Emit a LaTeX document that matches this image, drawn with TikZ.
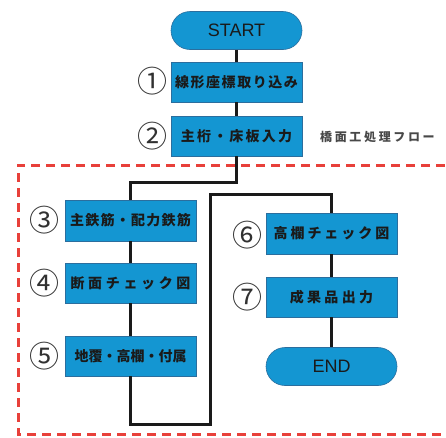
\documentclass[tikz,border=0pt]{standalone}
\usepackage{fontspec}
\setmainfont{Liberation Sans}
\newfontfamily\jp{Noto Sans CJK JP}
\definecolor{boxblue}{HTML}{1496D2}
\definecolor{boxedge}{HTML}{2B6E9E}
\definecolor{dashred}{HTML}{E8403A}
\definecolor{txt}{HTML}{1A1A1A}
\newcommand{\ls}[2]{{\addfontfeature{LetterSpace=#1}#2}}
\tikzset{
  stepbox/.style={draw=boxedge, line width=0.6pt, fill=boxblue, minimum width=131pt, minimum height=40pt, inner sep=0pt, text=txt, font=\jp\bfseries\fontsize{14}{16}\selectfont},
  term/.style={draw=boxedge, line width=0.6pt, fill=boxblue, minimum width=131pt, minimum height=38pt, rounded corners=19pt, inner sep=0pt, text=txt, font=\fontsize{18}{20}\selectfont},
  num/.style={inner sep=0pt, text=txt!90, font=\jp\fontsize{30}{31}\selectfont},
  conn/.style={line width=3pt, draw=txt},
}
\begin{document}
\begin{tikzpicture}[x=1pt,y=-1pt]
\useasboundingbox (0,0) rectangle (446,437);
% dashed region
\draw[dashred, line width=3pt, dash pattern=on 9pt off 6pt] (460,165) -- (18,165) -- (18,434) -- (460,434);
% nodes
\node[term] (start) at (236.5,30.5) {START};
\node[stepbox] (b1) at (236.5,82) {\ls{11}{線形座標取り込み}};
\node[stepbox] (b2) at (236.5,136) {\ls{16}{主桁・床板入力}};
\node[stepbox, minimum height=41pt] (b3) at (130.5,220.5) {\ls{9}{主鉄筋・配力鉄筋}};
\node[stepbox] (b4) at (130.5,283) {\ls{26}{断面チェック図}};
\node[stepbox] (b5) at (130.5,356) {\ls{0}{地覆・高欄・付属}};
\node[stepbox, minimum height=41pt] (b6) at (331.5,233.5) {\ls{21}{高欄チェック図}};
\node[stepbox] (b7) at (331.5,297) {\ls{24}{成果品出力}};
\node[term] (end) at (331.5,366.5) {END};
% numbers
\node[num] (n1) at (152,81) {①};
\node[num] (n2) at (152,136) {②};
\node[num] (n3) at (44,220) {③};
\node[num] (n4) at (44,283) {④};
\node[num] (n5) at (44,356) {⑤};
\node[num] (n6) at (247,235) {⑥};
\node[num] (n7) at (247,297) {⑦};
% caption
\node[inner sep=0pt, anchor=west, text=txt!80, font=\jp\bfseries\fontsize{12}{14}\selectfont] (cap) at (320,137) {\ls{22}{橋面工処理フロー}};
% connectors
\coordinate (j1) at (236.5,182);
\coordinate (l1) at (210,424);
\coordinate (l2) at (210,194);
\draw[conn] (start.south) -- (b1.north);
\draw[conn] (b1.south) -- (b2.north);
\draw[conn] (b2.south) -- (j1) -| (b3.north);
\draw[conn] (b3.south) -- (b4.north);
\draw[conn] (b4.south) -- (b5.north);
\draw[conn, line join=miter] (b5.south) |- (l1) -- (l2) -| (b6.north);
\draw[conn] (b6.south) -- (b7.north);
\draw[conn] (b7.south) -- (end.north);
\end{tikzpicture}
\end{document}
